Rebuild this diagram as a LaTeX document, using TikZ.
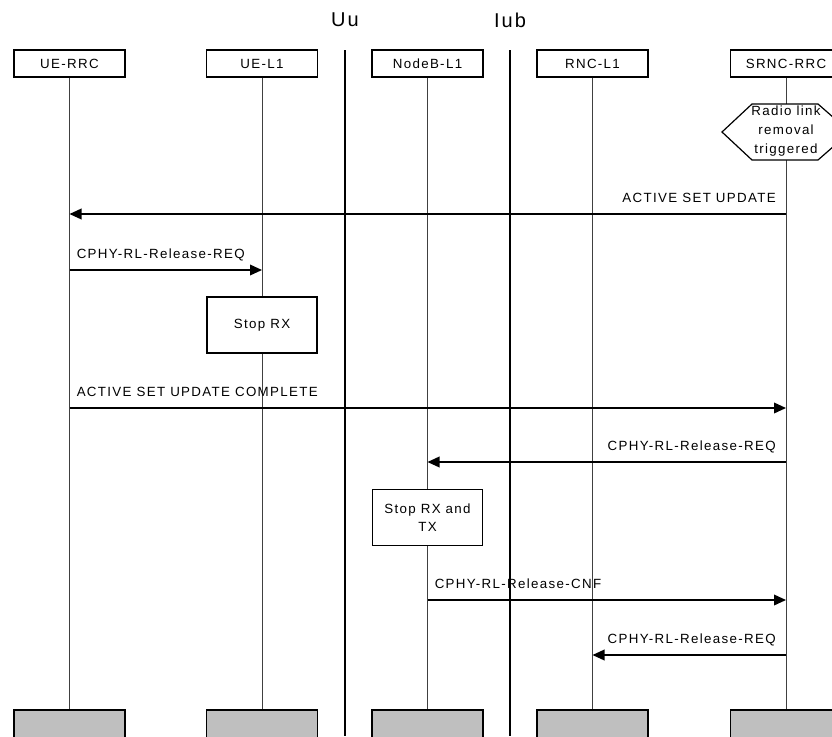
\documentclass[tikz,border=0pt]{standalone}
\usepackage{fontspec}
\setmainfont{Liberation Sans}
\usetikzlibrary{arrows.meta,positioning,calc}
\newcommand\lbl{\fontsize{10}{14}\selectfont\addfontfeature{LetterSpace=10}}
\newcommand\ifc{\fontsize{15}{17}\selectfont\addfontfeature{LetterSpace=10}}
\tikzset{
  ent/.style={draw, line width=0.9pt, minimum width=83.25pt, minimum height=20.25pt,
              inner sep=0pt, font=\lbl},
  endbx/.style={ent, fill=black!25, minimum height=24pt},
  life/.style={black!75, line width=0.75pt},
  iface/.style={line width=2pt},
  msg/.style={-{Triangle[length=9pt,width=8pt]}, line width=1.1pt},
  act/.style={draw, fill=white, line width=0.9pt, minimum width=82.5pt, minimum height=42pt,
              align=center, font=\lbl, inner sep=0pt},
  mtxt/.style={font=\lbl, inner sep=0pt},
}

\begin{document}
\begin{tikzpicture}[x=0.75pt, y=-0.75pt]
    \useasboundingbox (0,0) rectangle (832,736);
    \clip (0,0) rectangle (832,736);
    % --- entities with their lifelines
    \foreach \n/\x/\t in {UErrc/69.5/UE-RRC, UEl/262/UE-L1, NBl/427.5/NodeB-L1, RNCl/592.5/RNC-L1, SRNC/786/SRNC-RRC}{
      \node[ent] (\n) at (\x,63.5) {\t};
      \node[endbx] (\n-end) at (\x,726) {};
      \draw[life] (\n) -- (\n-end);
    }
    % --- interfaces
    \foreach \n/\x/\t in {Uu/345/Uu, Iub/510/Iub}{
      \node[font=\ifc] (\n) at (\x,20) {\t};
      \coordinate (\n-top) at (\x,50);
      \coordinate (\n-bot) at (\x,736);
      \draw[iface] (\n-top) -- (\n-bot);
    }
    % --- trigger at the SRNC
    \filldraw[fill=white, line width=0.9pt] (722,132) -- ++(30,-28) -- ++(66,0) -- ++(32,28)
      -- ++(-32,28) -- ++(-66,0) -- cycle;
    \node[mtxt, align=center] (trig) at (786,131) {Radio link\\removal\\triggered};
    % --- local actions
    \node[act] (stopRX) at (262,325) {Stop RX};
    \node[act] (stopRXTX) at (427.5,517.5) {Stop RX and\\TX};
    % --- messages
    \foreach \i/\a/\b/\y/\side/\dx/\t in {
        1/SRNC/UErrc/214/east/-10/ACTIVE SET UPDATE,
        2/UErrc/UEl/270/west/7/CPHY-RL-Release-REQ,
        3/UErrc/SRNC/408/west/7/ACTIVE SET UPDATE COMPLETE,
        4/SRNC/NBl/462/east/-10/CPHY-RL-Release-REQ,
        5/NBl/SRNC/600/west/7/CPHY-RL-Release-CNF,
        6/SRNC/RNCl/655/east/-10/CPHY-RL-Release-REQ}{
      \coordinate (s\i) at (\a |- 0,\y);
      \coordinate (e\i) at (\b |- 0,\y);
      \draw[msg] (s\i) -- (e\i);
      \node[mtxt, anchor=base \side] (m\i) at ($(s\i)+(\dx,-12)$) {\t};
    }
\end{tikzpicture}
\end{document}
